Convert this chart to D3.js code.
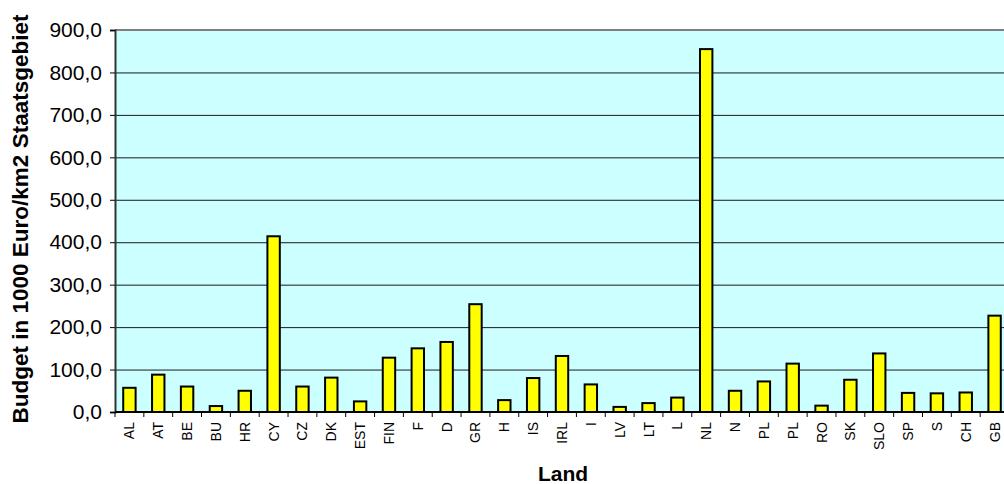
<!DOCTYPE html>
<html>
<head>
<meta charset="utf-8">
<script src="https://cdn.jsdelivr.net/npm/d3@7"></script>
<style>
  body { margin: 0; background: #fff; }
  svg { display: block; font-family: "Liberation Sans", Arial, sans-serif; }
</style>
</head>
<body>
<div id="chart"></div>
<script>
// Data
const countries = ['AL', 'AT', 'BE', 'BU', 'HR', 'CY', 'CZ', 'DK', 'EST', 'FIN', 'F', 'D', 'GR', 'H', 'IS', 'IRL',
  'I', 'LV', 'LT', 'L', 'NL', 'N', 'PL', 'PL', 'RO', 'SK', 'SLO', 'SP', 'S', 'CH', 'GB']
const budget = [57, 88, 60, 14, 50, 414, 60, 81, 25, 128, 150, 165, 254, 28, 80, 132,
  65, 12, 21, 34, 855, 50, 72, 114, 15, 76, 138, 45, 44, 46, 227]
const yTicks = [0, 100, 200, 300, 400, 500, 600, 700, 800, 900]

const dataset = countries.map((c, i) => ({ key: i, land: c, value: budget[i] }))

// Dimensions
let dimensions = {
  width: 1004,
  height: 484,
  left: 115,
  right: 1009,
  top: 30,
  bottom: 412
}

const svg = d3.select('#chart')
  .append('svg')
  .attr('width', dimensions.width)
  .attr('height', dimensions.height)

// Scales
const xScale = d3.scaleBand()
  .domain(dataset.map(d => d.key))
  .range([dimensions.left, dimensions.right])
  .paddingInner(0.57)
  .paddingOuter(0.285)

const yScale = d3.scaleLinear()
  .domain([0, 900])
  .range([dimensions.bottom, dimensions.top])

// Plot background
svg.append('rect')
  .attr('x', dimensions.left)
  .attr('y', dimensions.top)
  .attr('width', dimensions.right - dimensions.left)
  .attr('height', dimensions.bottom - dimensions.top)
  .attr('fill', '#ccffff')

// Gridlines
svg.append('g')
  .selectAll('line')
  .data(yTicks.filter(t => t > 0 && t < 900))
  .join('line')
  .attr('x1', dimensions.left)
  .attr('x2', dimensions.right)
  .attr('y1', d => yScale(d) + 0.5)
  .attr('y2', d => yScale(d) + 0.5)
  .attr('stroke', '#1a1a1a')
  .attr('stroke-width', 1)

// top border
svg.append('line')
  .attr('x1', dimensions.left)
  .attr('x2', dimensions.right)
  .attr('y1', yScale(900))
  .attr('y2', yScale(900))
  .attr('stroke', '#808080')
  .attr('stroke-width', 2)

// Bars
svg.append('g')
  .selectAll('rect')
  .data(dataset)
  .join('rect')
  .attr('x', d => xScale(d.key))
  .attr('y', d => yScale(d.value))
  .attr('width', xScale.bandwidth())
  .attr('height', d => yScale(0) - yScale(d.value))
  .attr('fill', '#ffff00')
  .attr('stroke', '#000')
  .attr('stroke-width', 2)

// Y axis
const yAxis = d3.axisLeft(yScale)
  .tickValues(yTicks)
  .tickSize(5)
  .tickPadding(8)
  .tickFormat(d => d3.format('.1f')(d).replace('.', ','))

const yAxisGroup = svg.append('g')
  .attr('transform', `translate(${dimensions.left}, 0)`)
  .call(yAxis)
yAxisGroup.select('.domain').attr('stroke', '#333').attr('stroke-width', 2)
yAxisGroup.selectAll('.tick line').attr('stroke', '#000')
yAxisGroup.selectAll('.tick text')
  .attr('font-size', 21)
  .attr('fill', '#000')
  .attr('font-family', '"Liberation Sans", Arial, sans-serif')

// X axis (ticks between categories)
const xAxisGroup = svg.append('g')
  .attr('transform', `translate(0, ${dimensions.bottom})`)
xAxisGroup.append('line')
  .attr('x1', dimensions.left)
  .attr('x2', dimensions.right)
  .attr('stroke', '#000')
  .attr('stroke-width', 2)
xAxisGroup.selectAll('.sep')
  .data(dataset)
  .join('line')
  .attr('class', 'sep')
  .attr('x1', d => xScale(d.key) - xScale.step() * xScale.paddingInner() / 2)
  .attr('x2', d => xScale(d.key) - xScale.step() * xScale.paddingInner() / 2)
  .attr('y1', 0)
  .attr('y2', 5)
  .attr('stroke', '#000')
xAxisGroup.selectAll('.lbl')
  .data(dataset)
  .join('text')
  .attr('class', 'lbl')
  .attr('transform', d => `translate(${xScale(d.key) + xScale.bandwidth() / 2 + 5}, 10) rotate(-90)`)
  .attr('text-anchor', 'end')
  .attr('font-size', 14)
  .attr('fill', '#000')
  .text(d => d.land)

// Axis titles
svg.append('text')
  .attr('transform', `translate(28, 219) rotate(-90)`)
  .attr('text-anchor', 'middle')
  .attr('font-size', 22.5)
  .attr('font-weight', 'bold')
  .text('Budget in 1000 Euro/km2 Staatsgebiet')

svg.append('text')
  .attr('x', 563)
  .attr('y', 481)
  .attr('text-anchor', 'middle')
  .attr('font-size', 21)
  .attr('font-weight', 'bold')
  .text('Land')
</script>
</body>
</html>
